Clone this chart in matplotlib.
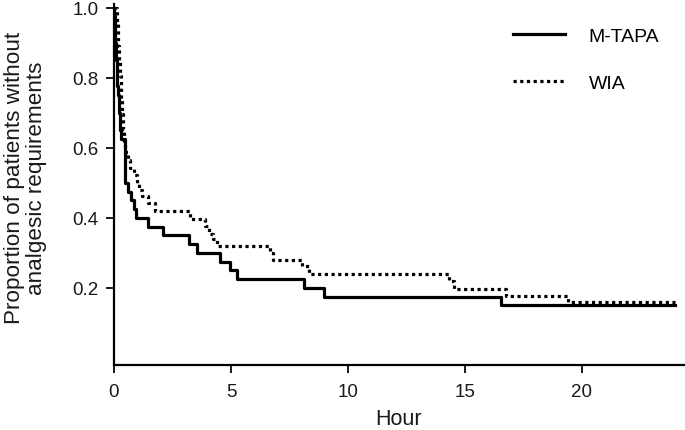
import matplotlib
matplotlib.use("Agg")
import matplotlib.pyplot as plt

plt.rcParams['font.family'] = ['Liberation Sans', 'DejaVu Sans']

# M-TAPA (solid): event times (hours) and survival after each step
mtapa_t = [0.00, 0.01, 0.03, 0.04, 0.06, 0.08, 0.09, 0.11, 0.13, 0.15, 0.17,
           0.20, 0.22, 0.25, 0.27, 0.30, 0.46, 0.60, 0.74, 0.85, 0.95, 1.45,
           2.09, 3.22, 3.53, 4.55, 4.96, 5.24, 8.14, 8.97, 16.55, 24.0]
mtapa_s = [1.000, 0.975, 0.950, 0.925, 0.900, 0.875, 0.850, 0.825, 0.800, 0.775, 0.750,
           0.725, 0.700, 0.675, 0.650, 0.625, 0.500, 0.475, 0.450, 0.425, 0.400, 0.375,
           0.350, 0.325, 0.300, 0.275, 0.250, 0.225, 0.200, 0.175, 0.150, 0.150]

# WIA (dotted)
wia_t = [0.00, 0.12, 0.14, 0.16, 0.18, 0.19, 0.21, 0.23, 0.25, 0.27, 0.28, 0.30,
         0.32, 0.34, 0.35, 0.37, 0.39, 0.41, 0.43, 0.48, 0.58, 0.70, 0.85, 0.98,
         1.05, 1.20, 1.45, 1.74, 3.23, 3.89, 4.05, 4.22, 4.39, 6.67, 6.80, 8.05,
         8.35, 14.30, 14.55, 16.75, 19.40, 24.0]
wia_s = [1.000, 0.978, 0.957, 0.935, 0.913, 0.891, 0.870, 0.848, 0.826, 0.804, 0.783, 0.761,
         0.739, 0.717, 0.696, 0.674, 0.652, 0.630, 0.609, 0.587, 0.565, 0.543, 0.522, 0.500,
         0.478, 0.462, 0.443, 0.420, 0.398, 0.376, 0.355, 0.340, 0.320, 0.300, 0.280, 0.262,
         0.241, 0.220, 0.198, 0.177, 0.159, 0.159]

series_labels = ["M-TAPA", "WIA"]
xticks = [0, 5, 10, 15, 20]
yticks = [0.2, 0.4, 0.6, 0.8, 1.0]

fig = plt.figure(figsize=(6.85, 4.31), dpi=100)
ax = fig.add_axes([0.1664, 0.1508, 0.832, 0.8376])

ax.step(mtapa_t, mtapa_s, where='post', color='black', lw=2.3, label=series_labels[0])
ax.step(wia_t, wia_s, where='post', color='black', lw=2.3, linestyle=(0, (1, 1.1)),
        label=series_labels[1])

ax.set_xlim(0, 24.36)
ax.set_ylim(-0.02, 1.01)
ax.set_xticks(xticks)
ax.set_xticklabels([str(v) for v in xticks])
ax.set_yticks(yticks)
ax.set_yticklabels([f"{v:.1f}" for v in yticks])

for s in ['top', 'right']:
    ax.spines[s].set_visible(False)
for s in ['left', 'bottom']:
    ax.spines[s].set_linewidth(1.6)
ax.tick_params(direction='out', length=6, width=1.4, labelsize=13.5, colors='#1a1a1a', pad=5)
ax.tick_params(axis='x', pad=7)

ax.set_xlabel("Hour", fontsize=15.5, color='#1a1a1a', labelpad=6)
ax.set_ylabel("Proportion of patients without\nanalgesic requirements", fontsize=16.2,
              color='#1a1a1a', linespacing=1.05)
ax.yaxis.set_label_coords(-0.118, 0.52)

leg = ax.legend(loc='upper left', bbox_to_anchor=(0.669, 0.985), frameon=False, fontsize=14,
                handlelength=2.7, handletextpad=1.2, labelspacing=1.55)

fig.savefig("out.png", dpi=100)
